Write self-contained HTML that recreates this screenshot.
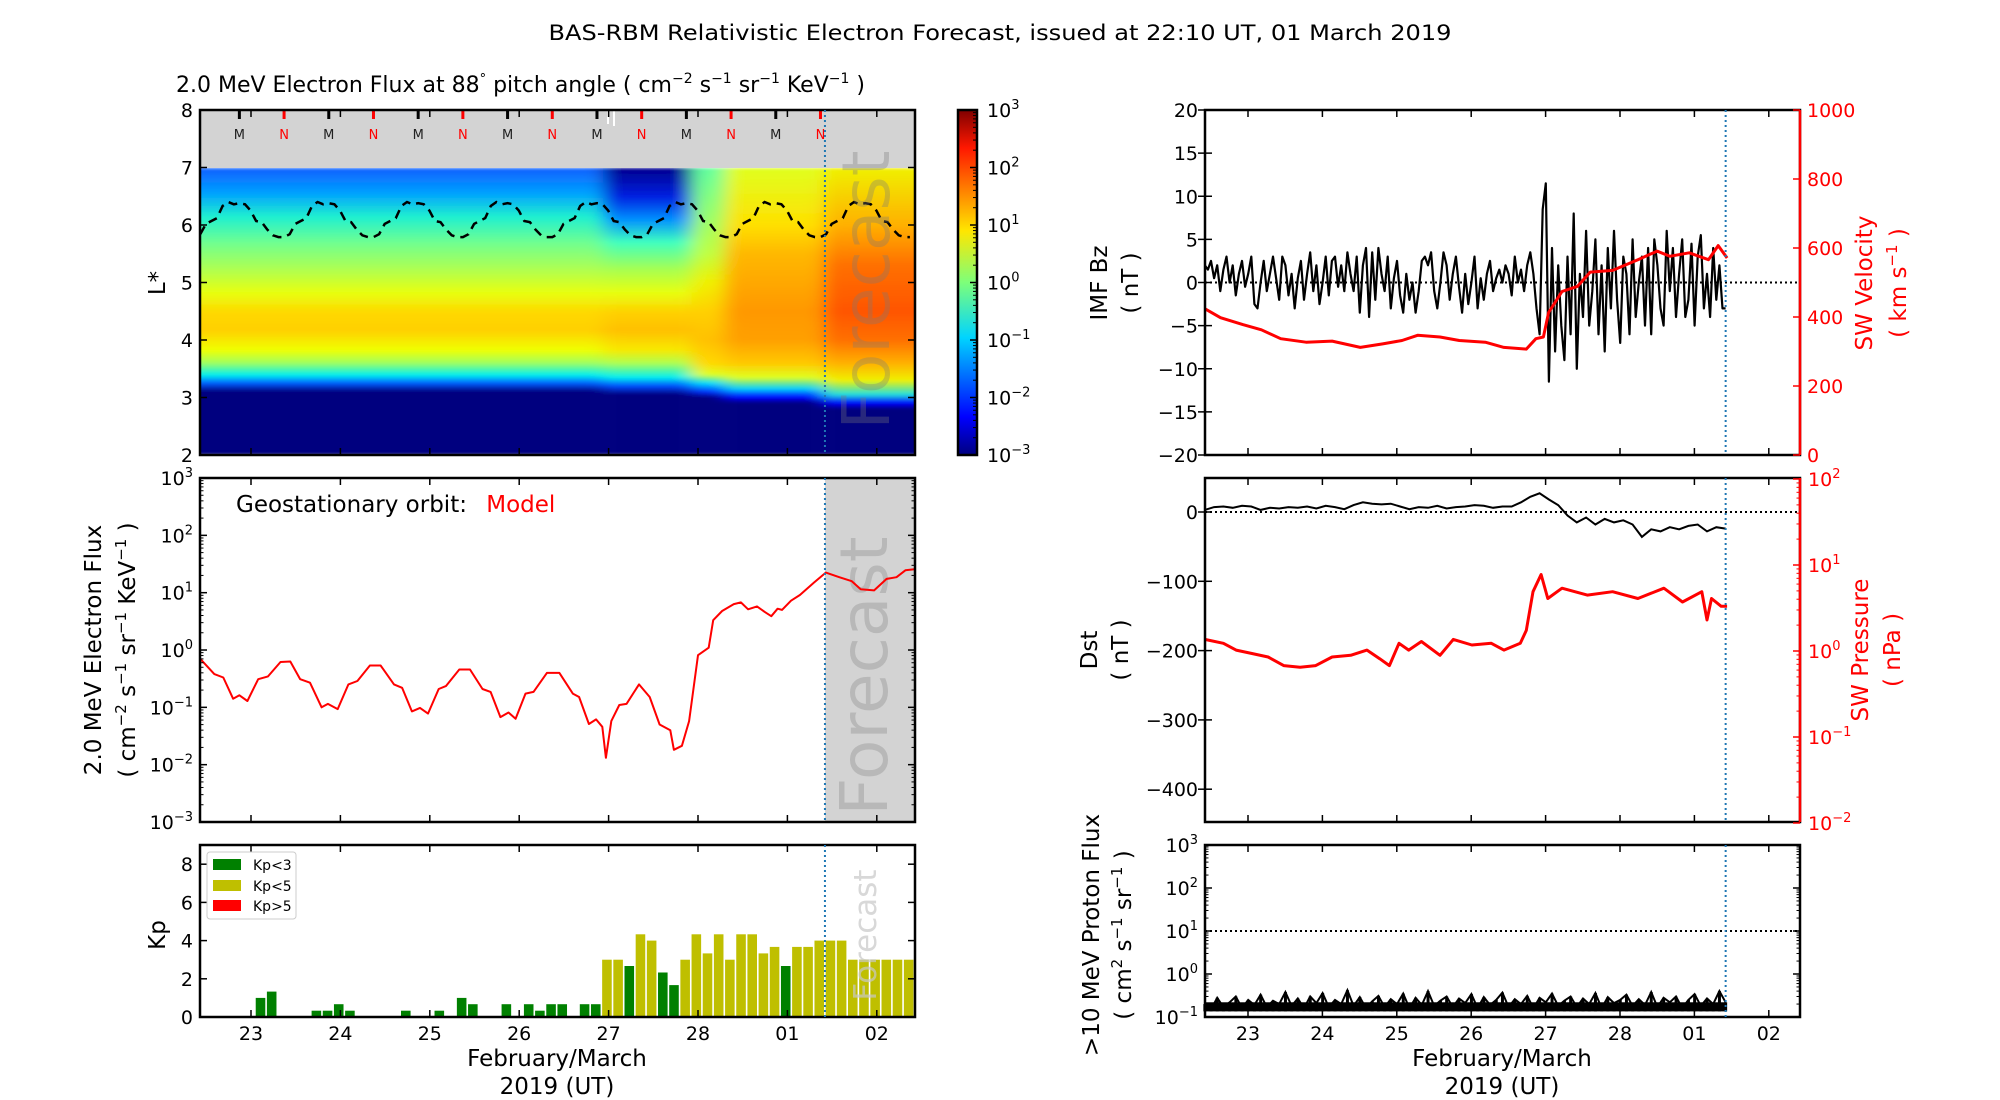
<!DOCTYPE html>
<html><head><meta charset="utf-8"><title>BAS-RBM Forecast</title>
<style>
html,body{margin:0;padding:0;background:#fff;}
svg{display:block;font-family:"DejaVu Sans","Liberation Sans",sans-serif;}
</style></head>
<body>
<svg id="fig" xmlns="http://www.w3.org/2000/svg" width="2000" height="1100" viewBox="0 0 2000 1100">
<defs>
<linearGradient id="jet" x1="0" y1="1" x2="0" y2="0">
<stop offset="0" stop-color="#00007f"/><stop offset="0.11" stop-color="#0000ff"/><stop offset="0.34" stop-color="#00d4ff"/>
<stop offset="0.5" stop-color="#7dff7a"/><stop offset="0.65" stop-color="#ffe600"/><stop offset="0.89" stop-color="#ff1800"/><stop offset="1" stop-color="#7f0000"/>
</linearGradient>
<clipPath id="hmclip"><rect x="200" y="168" width="715" height="287"/></clipPath>
<filter id="hblur" x="-5%" y="0" width="110%" height="100%"><feGaussianBlur stdDeviation="9 1.5"/></filter>
</defs>
<g id="root"></g>
</svg>
<script>
// ---------- data ----------
const dayTicks=[23,24,25,26,27,28,29,30];
const dayTickLabels=['23','24','25','26','27','28','01','02'];
const tStart=22.42, tEnd=30.42, tNow=29.42;
// heatmap columns (day boundaries)
const hmCols=[22.42,26.94,27.93,28.3,29.4,30.42];
// magnetopause-like dashed L* line: one-day cycle sampled every 1.5 h starting at local midnight (M)
const dipCycle=[6.38,6.36,6.25,6.07,6.05,5.92,5.82,5.79,5.79,5.84,6.02,6.07,6.12,6.33,6.4,6.36];
const mTimes=[22.87,23.87,24.87,25.87,26.87,27.87,28.87];
const nTimes=[23.37,24.37,25.37,26.37,27.37,28.37,29.37];
// geostationary model flux (day, log10 flux)
const fluxDays=[22.43,22.59,22.69,22.80,22.87,22.96,23.08,23.19,23.33,23.44,23.55,23.66,23.79,23.86,23.97,24.09,24.19,24.33,24.45,24.60,24.69,24.80,24.89,24.98,25.10,25.18,25.33,25.45,25.59,25.68,25.79,25.88,25.96,26.07,26.16,26.31,26.45,26.60,26.67,26.78,26.86,26.93,26.97,27.03,27.12,27.20,27.34,27.46,27.57,27.69,27.73,27.82,27.90,28.00,28.12,28.17,28.27,28.40,28.48,28.56,28.66,28.75,28.82,28.89,28.94,29.04,29.14,29.30,29.43,29.58,29.72,29.82,29.97,30.11,30.22,30.32,30.42];
const fluxLog=[-0.15,-0.42,-0.48,-0.85,-0.79,-0.89,-0.51,-0.46,-0.21,-0.2,-0.51,-0.57,-1.0,-0.94,-1.03,-0.6,-0.54,-0.27,-0.27,-0.6,-0.66,-1.07,-1.01,-1.11,-0.68,-0.63,-0.34,-0.34,-0.68,-0.73,-1.17,-1.09,-1.2,-0.76,-0.73,-0.4,-0.4,-0.76,-0.82,-1.29,-1.21,-1.34,-1.88,-1.24,-0.96,-0.94,-0.6,-0.82,-1.3,-1.4,-1.74,-1.67,-1.24,-0.09,0.04,0.52,0.68,0.8,0.83,0.71,0.76,0.66,0.59,0.72,0.7,0.86,0.96,1.18,1.35,1.27,1.2,1.06,1.04,1.24,1.27,1.39,1.41];
// Kp, 3-hourly from 22.42
const kpValues=[0,0,0,0,0,1.0,1.33,0,0,0,0.33,0.33,0.67,0.33,0,0,0,0,0.33,0,0,0.33,0,1.0,0.67,0,0,0.67,0,0.67,0.33,0.67,0.67,0,0.67,0.67,3.0,3.0,2.67,4.33,4.0,2.33,1.67,3.0,4.33,3.33,4.33,3.0,4.33,4.33,3.33,3.67,2.67,3.67,3.67,4.0,4.0,4.0,3.0,3.0,3.0,3.0,3.0,3.0];
// IMF Bz hourly from 22.42 (nT)
const bzValues=[2,1.5,2.5,0.5,2,-1,1.5,3,0,2,-1.5,1,2.5,-0.5,1,3,-2.5,-3,0,2.5,-1,1,3,0.5,
-2,3,2,-1.5,1,-3,0.5,2.5,-2,1,3.5,-1,2,-2.5,0,3,-1.5,2.5,3,-0.5,2,-1,3.5,1,
-1,3,-3.5,2,4,-4,3.5,-2,4,1,-1,3,-3,0.5,2.5,-1.5,-3.5,1,-2,0,-3.5,-1,2.5,3,
2,3.5,-1,-3,0,3.5,2,-2,1,3,-0.5,-3.5,1,-2.5,0,3,-3,0.5,-2,1,2.5,-1,0.5,1.5,
0,2,1,-1.5,3,0,1.5,-1,2,3.5,1,-3,-6,8.5,11.5,-11.5,4,-8,2,-5,-9,3,-6,8,
-10,1,-4,6,-5,-1,5,-6,2,-8,4,-3,6,-2,-7,3,1,-6,5,-4,0,3,-5,4,
-6,5,2,-3,-5,6,-1,4,-4,1,5,-4,-2,4.5,-5,3,5.5,-3,1,-4,4,-2,2,-3,-3];
// Solar wind velocity (day, km/s)
const vDays=[22.42,22.63,22.93,23.18,23.44,23.78,24.13,24.51,24.81,25.07,25.28,25.58,25.84,26.19,26.44,26.74,26.87,26.97,27.04,27.22,27.43,27.6,27.9,28.24,28.5,28.67,28.93,29.19,29.32,29.44];
const vValues=[424,398,378,363,337,327,330,312,322,332,347,342,332,327,312,307,337,342,413,474,489,530,535,566,591,576,586,566,607,571];
// Dst 3-hourly from 22.42 (nT)
const dstValues=[3,7,8,6,9,8,3,6,5,7,6,8,5,9,7,4,10,14,12,11,12,8,4,7,6,9,5,7,8,10,9,6,8,8,14,22,27,18,10,-5,-15,-8,-18,-10,-15,-12,-18,-36,-25,-28,-22,-25,-20,-18,-28,-22,-24];
// SW pressure (day, log10 nPa)
const pDays=[22.42,22.67,22.84,23.06,23.27,23.48,23.70,23.91,24.13,24.38,24.60,24.77,24.90,25.03,25.16,25.33,25.58,25.76,26.01,26.27,26.44,26.66,26.74,26.83,26.94,27.03,27.22,27.56,27.90,28.24,28.59,28.84,29.10,29.17,29.23,29.36,29.44];
const pLog=[0.135,0.09,0.01,-0.03,-0.07,-0.17,-0.19,-0.17,-0.07,-0.05,0.01,-0.09,-0.17,0.09,0.01,0.11,-0.05,0.135,0.07,0.09,0.01,0.09,0.24,0.69,0.89,0.61,0.73,0.65,0.69,0.61,0.73,0.57,0.69,0.36,0.61,0.52,0.52];
// >10 MeV proton flux, 2-hourly from 22.42
const protonValues=[0.2,0.15,0.28,0.17,0.22,0.3,0.16,0.25,0.19,0.33,0.17,0.24,0.2,0.38,0.18,0.27,0.16,0.3,0.21,0.36,0.17,0.25,0.2,0.42,0.18,0.29,0.16,0.23,0.31,0.17,0.26,0.2,0.35,0.16,0.28,0.19,0.4,0.18,0.24,0.3,0.17,0.27,0.21,0.34,0.16,0.29,0.19,0.25,0.37,0.17,0.26,0.2,0.31,0.16,0.28,0.22,0.35,0.18,0.24,0.3,0.17,0.27,0.2,0.36,0.16,0.29,0.21,0.25,0.33,0.18,0.26,0.19,0.38,0.17,0.28,0.22,0.3,0.16,0.25,0.34,0.18,0.27,0.2,0.4,0.22];

// ---------- axes ----------
const L={x0:200,x1:915}, R={x0:1205,x1:1800};
const xL=d=>251+(d-23)*89.4;
const xR=d=>1248+(d-23)*74.4;
const yHM=l=>455-(l-2)*57.5;
const yFl=g=>822-(g+3)*57.33;
const yKp=k=>1017-k*19.1;
const yBz=b=>282.5-b*8.625;
const yV=v=>455-v*0.345;
const yDst=d=>512-d*0.693;
const yP=g=>651-g*86;
const yPr=g=>1017-(g+1)*43;

const NS='http://www.w3.org/2000/svg';
const root=document.getElementById('root');
function mk(tag,attrs,parent){const e=document.createElementNS(NS,tag);for(const k in attrs)e.setAttribute(k,attrs[k]);(parent||root).appendChild(e);return e;}
function txt(s,attrs,parent){const e=mk('text',attrs,parent);e.textContent=s;return e;}
function sup(base,exp,attrs,parent){const e=mk('text',attrs,parent);const a=document.createElementNS(NS,'tspan');a.textContent=base;e.appendChild(a);const b=document.createElementNS(NS,'tspan');b.setAttribute('dy','-8');b.setAttribute('font-size','13');b.textContent=exp;e.appendChild(b);return e;}

// ---------- titles ----------
let t=txt('BAS-RBM Relativistic Electron Forecast, issued at 22:10 UT, 01 March 2019',{x:1000,y:40,'font-size':21,'text-anchor':'middle',textLength:903,lengthAdjust:'spacingAndGlyphs'});

let st=mk('text',{x:176,y:92,'font-size':22});

st.innerHTML='2.0 MeV Electron Flux at 88<tspan dy="-9" font-size="13">°</tspan><tspan dy="9"> pitch angle ( cm</tspan><tspan dy="-9" font-size="14">−2</tspan><tspan dy="9"> s</tspan><tspan dy="-9" font-size="14">−1</tspan><tspan dy="9"> sr</tspan><tspan dy="-9" font-size="14">−1</tspan><tspan dy="9"> KeV</tspan><tspan dy="-9" font-size="14">−1</tspan><tspan dy="9"> )</tspan>';

// ---------- panel 1: heatmap ----------
const g1=mk('g',{});

mk('rect',{x:200,y:110,width:715,height:58,fill:'#d3d3d3'},g1);
const colStops=[
 [[7,'#1060ff'],[6.56,'#00a0ff'],[6.14,'#20f0d0'],[5.69,'#70ff90'],[5.22,'#b0ff50'],[4.82,'#e8ff10'],[4.47,'#ffd800'],[4.17,'#ffd000'],[3.83,'#f0ff00'],[3.6,'#a0ff60'],[3.39,'#00f0f0'],[3.25,'#0060ff'],[3.1,'#00007f'],[2,'#00007f']],
 [[7,'#00008f'],[6.5,'#0020e0'],[6.1,'#0090ff'],[5.7,'#40ffc0'],[5.22,'#a8ff50'],[4.82,'#e8ff10'],[4.47,'#ffd000'],[4.17,'#ffc000'],[3.83,'#f8e800'],[3.6,'#b0ff50'],[3.35,'#00f0f0'],[3.2,'#0050ff'],[3.05,'#00007f'],[2,'#00007f']],
 [[7,'#60ffa0'],[6,'#a0ff60'],[5.5,'#c0ff40'],[5,'#f0f000'],[4.5,'#ffd000'],[4,'#ffc000'],[3.6,'#ffd800'],[3.4,'#e0ff20'],[3.25,'#00e0ff'],[3.1,'#0030ff'],[3.0,'#00007f'],[2,'#00007f']],
 [[7,'#e0ff20'],[6,'#ffe000'],[5.5,'#ffb800'],[4.5,'#ff9800'],[4,'#ffa000'],[3.6,'#ffc800'],[3.35,'#e0ff20'],[3.15,'#00d0ff'],[3.0,'#0000ff'],[2.9,'#00007f'],[2,'#00007f']],
 [[7,'#f0f000'],[6,'#ffb000'],[5.3,'#ff7000'],[4.5,'#ff5500'],[4,'#ff7000'],[3.6,'#ffb000'],[3.3,'#f0f000'],[3.05,'#20e0e0'],[2.9,'#0000ff'],[2.8,'#00007f'],[2,'#00007f']]
];
const defs=document.querySelector('defs');
const hmg=mk('g',{'clip-path':'url(#hmclip)'},g1);
const hmb=mk('g',{filter:'url(#hblur)'},hmg);
colStops.forEach((stops,i)=>{
  const lg=mk('linearGradient',{id:'hm'+i,x1:0,y1:168,x2:0,y2:455,gradientUnits:'userSpaceOnUse'},defs);
  stops.forEach(s=>mk('stop',{offset:((yHM(s[0])-168)/287).toFixed(4),'stop-color':s[1]},lg));
  const x0=i==0?180:xL(hmCols[i]), x1=i==colStops.length-1?940:xL(hmCols[i+1]);
  const r=mk('rect',{x:x0,y:168,width:x1-x0,height:287,fill:'url(#hm'+i+')'},hmb);
  
  
});
// dashed L line
let dpts=[];
for(let k=-1;k<8;k++){dipCycle.forEach((v,j)=>{const d=22.87+k+j*0.0625;if(d>=tStart-0.01&&d<=tEnd+0.01)dpts.push(xL(d).toFixed(1)+','+yHM(v).toFixed(1));});}
const dl=mk('polyline',{points:dpts.join(' '),fill:'none',stroke:'#000','stroke-width':2.5,'stroke-dasharray':'9 6'},g1);

// M / N ticks
mTimes.forEach(d=>{mk('rect',{x:xL(d)-1.5,y:110,width:3,height:9,fill:'#000'},g1);const e=txt('M',{x:xL(d),y:139,'font-size':13,'text-anchor':'middle',fill:'#222'},g1);});
nTimes.forEach(d=>{mk('rect',{x:xL(d)-1.5,y:110,width:3,height:9,fill:'#f00'},g1);const e=txt('N',{x:xL(d),y:139,'font-size':13,'text-anchor':'middle',fill:'#f00'},g1);});
mk('rect',{x:607,y:110,width:2,height:14,fill:'#fff'},g1);mk('rect',{x:613,y:110,width:2,height:16,fill:'#fff'},g1);
let fc=txt('Forecast',{x:0,y:0,'font-size':66,'text-anchor':'middle',fill:'rgba(120,120,120,0.33)',transform:'translate(889,290) rotate(-90)'},g1);


// ---------- helpers ----------
function frame(x0,y0,x1,y1,name){const r=mk('rect',{x:x0,y:y0,width:x1-x0,height:y1-y0,fill:'none',stroke:'#000','stroke-width':2.5});}
function vline(x,y0,y1){mk('line',{x1:x,y1:y0,x2:x,y2:y1,stroke:'#1f77b4','stroke-width':2,'stroke-dasharray':'2 3'});}
function xticks(xf,y0,y1,labels,side){dayTicks.forEach((d,i)=>{const x=xf(d);mk('line',{x1:x,y1:y1,x2:x,y2:y1-7,stroke:'#000','stroke-width':1.5});mk('line',{x1:x,y1:y0,x2:x,y2:y0+7,stroke:'#000','stroke-width':1.5});if(labels){const e=txt(dayTickLabels[i],{x:x,y:y1+23,'font-size':19,'text-anchor':'middle'});}});}
function yticksLin(vals,yf,x0,x1,color,labelSide,fmt){vals.forEach(v=>{const y=yf(v);mk('line',{x1:x0,y1:y,x2:x0+7,y2:y,stroke:'#000','stroke-width':1.5});mk('line',{x1:x1,y1:y,x2:x1-7,y2:y,stroke:'#000','stroke-width':1.5});const e=txt(fmt?fmt(v):String(v).replace('-','−'),{x:x0-7,y:y+7,'font-size':19,'text-anchor':'end',fill:color||'#000'});});}
function logTicks(lo,hi,yf,xa,dir,color,labels,lx,anchor){for(let p=lo;p<=hi;p++){const y=yf(p);mk('line',{x1:xa,y1:y,x2:xa+dir*7,y2:y,stroke:color,'stroke-width':1.5});if(labels){const e=sup('10',String(p).replace('-','−'),{x:lx,y:y+7,'font-size':19,'text-anchor':anchor,fill:color});}
 if(p<hi)for(let m=2;m<10;m++){const ym=yf(p+Math.log10(m));mk('line',{x1:xa,y1:ym,x2:xa+dir*3.5,y2:ym,stroke:color,'stroke-width':1});}}}
function vlabel(s,x,y,attrs){const a=Object.assign({x:0,y:0,'font-size':23,'text-anchor':'middle',transform:`translate(${x},${y}) rotate(-90)`},attrs||{});const e=mk('text',a);e.innerHTML=s;return e;}

// panel 1 axes
frame(200,110,915,455,'heatmap-frame');
[2,3,4,5,6,7,8].forEach(v=>{const y=yHM(v);mk('line',{x1:200,y1:y,x2:207,y2:y,stroke:'#000','stroke-width':1.5});mk('line',{x1:915,y1:y,x2:908,y2:y,stroke:'#000','stroke-width':1.5});const e=txt(String(v),{x:193,y:y+7,'font-size':19,'text-anchor':'end'});});
xticks(xL,110,455,false);
vline(xL(tNow),110,455);
vlabel('L*',165,283);
// colorbar
const cb=mk('rect',{x:958,y:110,width:19,height:345,fill:'url(#jet)',stroke:'#000','stroke-width':2.5});

for(let p=-3;p<=3;p++){const y=455-(p+3)*57.5;const e=sup('10',String(p).replace('-','−'),{x:987,y:y+7,'font-size':19});mk('line',{x1:977,y1:y,x2:970,y2:y,stroke:'#000','stroke-width':1.5});
 if(p<3)for(let m=2;m<10;m++){const ym=y-Math.log10(m)*57.5;mk('line',{x1:977,y1:ym,x2:973,y2:ym,stroke:'#000','stroke-width':1});}}

// ---------- panel 2: geo flux ----------
mk('rect',{x:xL(tNow),y:478,width:915-xL(tNow),height:344,fill:'#d3d3d3'});
let fc2=txt('Forecast',{x:0,y:0,'font-size':66,'text-anchor':'middle',fill:'rgba(150,150,150,0.45)',transform:'translate(887,676) rotate(-90)'});

const fl=mk('polyline',{points:fluxDays.map((d,i)=>xL(d).toFixed(1)+','+yFl(fluxLog[i]).toFixed(1)).join(' '),fill:'none',stroke:'#f00','stroke-width':2,'stroke-linejoin':'round'});

frame(200,478,915,822,'geo-flux-frame');
logTicks(-3,3,yFl,200,1,'#000',true,193,'end');logTicks(-3,3,yFl,915,-1,'#000',false);
xticks(xL,478,822,false);vline(xL(tNow),478,822);
let geo=mk('text',{x:236,y:512,'font-size':23});geo.innerHTML='Geostationary orbit:  <tspan fill="#f00" dx="12">Model</tspan>';

vlabel('2.0 MeV Electron Flux',101,650);
vlabel('( cm<tspan dy="-9" font-size="15">−2</tspan><tspan dy="9"> s</tspan><tspan dy="-9" font-size="15">−1</tspan><tspan dy="9"> sr</tspan><tspan dy="-9" font-size="15">−1</tspan><tspan dy="9"> KeV</tspan><tspan dy="-9" font-size="15">−1</tspan><tspan dy="9"> )</tspan>',135,650);

// ---------- panel 3: Kp ----------
const kg=mk('g',{});
kpValues.forEach((k,i)=>{if(k<=0)return;const d=tStart+i*0.125;const x0=xL(d)+0.7,w=0.125*89.4-1.6;const col=k<3?'#008000':(k<5?'#bfbf00':'#ff0000');
 const b=mk('rect',{x:x0,y:yKp(k),width:w,height:yKp(0)-yKp(k),fill:col},kg);
 
 });
let fc3=txt('Forecast',{x:0,y:0,'font-size':31,'text-anchor':'middle',fill:'rgba(200,200,200,0.7)',transform:'translate(876,935) rotate(-90)'});

frame(200,845,915,1017,'kp-frame');
[0,2,4,6,8].forEach(v=>{const y=yKp(v);mk('line',{x1:200,y1:y,x2:207,y2:y,stroke:'#000','stroke-width':1.5});mk('line',{x1:915,y1:y,x2:908,y2:y,stroke:'#000','stroke-width':1.5});const e=txt(String(v),{x:193,y:y+7,'font-size':19,'text-anchor':'end'});});
xticks(xL,845,1017,true);vline(xL(tNow),845,1017);
vlabel('Kp',165,935);
const lgd=mk('g',{});
mk('rect',{x:207,y:852,width:89,height:67,rx:3,fill:'#fff',stroke:'#ccc','stroke-width':1},lgd);
[['Kp<3','#008000',859],['Kp<5','#bfbf00',880],['Kp>5','#ff0000',900]].forEach(e=>{mk('rect',{x:213,y:e[2],width:28,height:11,fill:e[1]},lgd);const tt=txt(e[0],{x:253,y:e[2]+11,'font-size':14},lgd);});
[[557,'February/March',1066],[557,'2019 (UT)',1094],[1502,'February/March',1066],[1502,'2019 (UT)',1094]].forEach(a=>{const e=txt(a[1],{x:a[0],y:a[2],'font-size':23,'text-anchor':'middle'});});

// ---------- right panel 1: Bz & velocity ----------
mk('line',{x1:1205,y1:yBz(0),x2:1800,y2:yBz(0),stroke:'#000','stroke-width':2,'stroke-dasharray':'2 3'});
const bz=mk('polyline',{points:bzValues.map((b,i)=>xR(tStart+i/24).toFixed(1)+','+yBz(b).toFixed(1)).join(' '),fill:'none',stroke:'#000','stroke-width':2.2,'stroke-linejoin':'round'});

const vl=mk('polyline',{points:vDays.map((d,i)=>xR(d).toFixed(1)+','+yV(vValues[i]).toFixed(1)).join(' '),fill:'none',stroke:'#f00','stroke-width':3,'stroke-linejoin':'round'});

frame(1205,110,1800,455,'bz-frame');
mk('line',{x1:1800,y1:110,x2:1800,y2:455,stroke:'#f00','stroke-width':2.5});
yticksLin([-20,-15,-10,-5,0,5,10,15,20],yBz,1205,1205+0,'#000');
[0,200,400,600,800,1000].forEach(v=>{const y=yV(v);mk('line',{x1:1800,y1:y,x2:1793,y2:y,stroke:'#f00','stroke-width':1.5});const e=txt(String(v),{x:1807,y:y+7,'font-size':19,fill:'#f00'});});
xticks(xR,110,455,false);vline(xR(tNow),110,455);
vlabel('IMF Bz',1107,283);vlabel('( nT )',1138,283);
vlabel('SW Velocity',1872,283,{fill:'#f00'});
vlabel('( km s<tspan dy="-9" font-size="15">−1</tspan><tspan dy="9"> )</tspan>',1906,283,{fill:'#f00'});

// ---------- right panel 2: Dst & pressure ----------
mk('line',{x1:1205,y1:yDst(0),x2:1800,y2:yDst(0),stroke:'#000','stroke-width':2,'stroke-dasharray':'2 3'});
const ds=mk('polyline',{points:dstValues.map((d,i)=>xR(tStart+i*0.125).toFixed(1)+','+yDst(d).toFixed(1)).join(' '),fill:'none',stroke:'#000','stroke-width':2});

const pl=mk('polyline',{points:pDays.map((d,i)=>xR(d).toFixed(1)+','+yP(pLog[i]).toFixed(1)).join(' '),fill:'none',stroke:'#f00','stroke-width':3,'stroke-linejoin':'round'});

frame(1205,478,1800,822,'dst-frame');
mk('line',{x1:1800,y1:478,x2:1800,y2:822,stroke:'#f00','stroke-width':2.5});
yticksLin([0,-100,-200,-300,-400],yDst,1205,1205,'#000');
logTicks(-2,2,yP,1800,-1,'#f00',true,1808,'start');
xticks(xR,478,822,false);vline(xR(tNow),478,822);
vlabel('Dst',1097,650);vlabel('( nT )',1128,650);
vlabel('SW Pressure',1868,650,{fill:'#f00'});vlabel('( nPa )',1900,650,{fill:'#f00'});

// ---------- right panel 3: proton flux ----------
mk('line',{x1:1205,y1:yPr(1),x2:1800,y2:yPr(1),stroke:'#000','stroke-width':2,'stroke-dasharray':'2 3'});
const pg=mk('g',{});
let pp=[];protonValues.forEach((v,i)=>{const x=xR(tStart+i/12);if(x>xR(tNow)+1)return;mk('line',{x1:x,y1:yPr(Math.log10(0.135)),x2:x,y2:yPr(Math.log10(v)),stroke:'#000','stroke-width':3},pg);pp.push(x.toFixed(1)+','+yPr(Math.log10(v)).toFixed(1));});
mk('polyline',{points:pp.join(' '),fill:'none',stroke:'#000','stroke-width':2},pg);
mk('rect',{x:1206,y:yPr(Math.log10(0.22)),width:xR(tNow)-1206,height:yPr(Math.log10(0.135))-yPr(Math.log10(0.22)),fill:'#000'},pg);
frame(1205,845,1800,1017,'proton-frame');
logTicks(-1,3,yPr,1205,1,'#000',true,1198,'end');logTicks(-1,3,yPr,1800,-1,'#000',false);
xticks(xR,845,1017,true);vline(xR(tNow),845,1017);
vlabel('&gt;10 MeV Proton Flux',1099,935);
vlabel('( cm<tspan dy="-9" font-size="15">2</tspan><tspan dy="9"> s</tspan><tspan dy="-9" font-size="15">−1</tspan><tspan dy="9"> sr</tspan><tspan dy="-9" font-size="15">−1</tspan><tspan dy="9"> )</tspan>',1131,935);
</script>
</body></html>
